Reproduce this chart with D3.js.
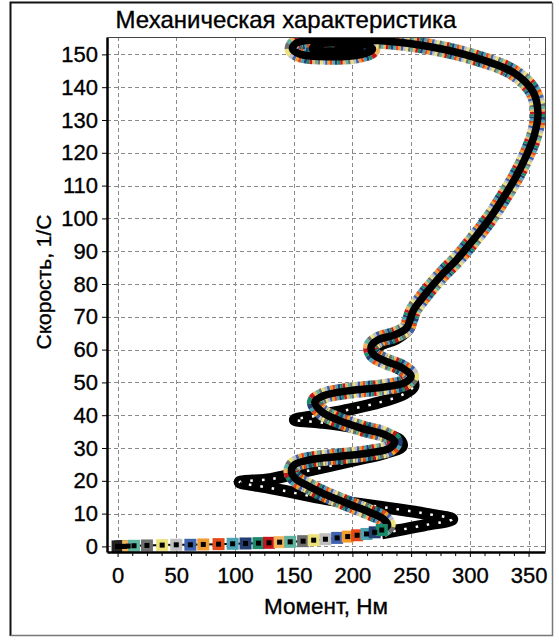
<!DOCTYPE html>
<html><head><meta charset="utf-8">
<script src="https://cdn.jsdelivr.net/npm/d3@7"></script>
<style>
body{margin:0;background:#fff}
svg{display:block}
text{font-family:"Liberation Sans",Arial,sans-serif;fill:#000;stroke:#000;stroke-width:0.35px}
</style>
</head><body>
<svg id="chart" width="559" height="640"></svg>
<script>
// Axis ticks
const torqueTicks = [0, 50, 100, 150, 200, 250, 300, 350];
const speedTicks = d3.range(0, 151, 10);

// Marker colours of the measured points
const palette = ["#f2b35a","#5fb3a1","#6f6f6f","#ece27a","#bfbfbf","#3f63ad",
                 "#f29b30","#e64a19","#4aa3b5","#243f73","#1b8a6b","#c4161c"];

// Run-up along the torque axis (sparse samples)
const runTorque = [0, 2, 4, 6, 9, 14, 25, 38, 50, 62, 73, 86, 98, 109, 120, 129, 138, 147, 158, 167, 177, 187, 196, 204, 212, 219, 225];
const runSpeed  = [0, 0, 0, 0, 0.1, 0.2, 0.3, 0.4, 0.5, 0.5, 0.6, 0.7, 0.8, 0.9, 1.0, 1.1, 1.3, 1.4, 1.6, 1.9, 2.2, 2.6, 3.0, 3.4, 3.8, 4.3, 5.0];

// Static characteristic after run-up (dense samples)
const staticTorque = [225, 230, 226, 214, 200, 186, 173, 162, 152, 148, 151, 165, 190, 214, 232, 236, 228, 208, 188, 174, 168, 176, 198, 225, 245, 250, 242, 228, 218, 216, 222, 236, 246, 249, 252, 259, 268, 278, 289, 303, 316, 328, 339, 348, 355, 358, 354, 337, 302, 265, 230, 195, 165, 152, 149, 156, 180, 205, 217, 210, 185, 168, 166, 180, 200, 207, 195, 185];
const staticSpeed  = [5.0, 6.5, 8.5, 10.5, 12.5, 14.5, 16.5, 18.5, 20.5, 23, 25, 26.5, 27.5, 28.5, 30, 32, 34, 36, 38.5, 41, 44, 46, 47.5, 48.5, 50, 52, 54.5, 56.5, 58.5, 61, 63, 64.5, 66.5, 69, 72, 75.5, 79.5, 83.5, 87.5, 93.5, 99.5, 106, 112.5, 119, 125.5, 132, 138.5, 144.5, 149.3, 152.4, 154, 154.6, 154.4, 153.4, 151.6, 150, 149.3, 149.8, 151.5, 153.2, 153.6, 152.8, 151.6, 151, 151.3, 152.2, 152.6, 152.2];

// Dynamic characteristic (wide torque oscillations)
const dynTorque = [225, 240, 262, 285, 262, 235, 205, 181, 155, 130, 104, 130, 155, 180, 205, 228, 242, 240, 222, 198, 172, 151, 172, 198, 224, 244, 252, 248, 236, 225, 218, 224, 238, 248, 250];
const dynSpeed  = [4, 5, 6.5, 8.3, 10, 11.5, 13, 14.2, 16, 17.8, 19.6, 20.5, 22.5, 24.5, 26.5, 28.5, 30.5, 32.5, 34.5, 36.5, 37.8, 38.6, 40, 41.8, 44, 46.5, 49, 52, 55, 57.5, 59.5, 61.5, 63.5, 66.5, 69.5];

const svg = d3.select("#chart");
const pLeft = 107, pRight = 545, pTop = 37, pBottom = 552;
const x = d3.scaleLinear().domain([-9, 364]).range([pLeft, pRight]);
const y = d3.scaleLinear().domain([-1.7, 155.3]).range([pBottom, pTop]);

// Outer frame: dark left/top, lighter right/bottom
svg.append("path").attr("d", "M10.5,636V2.5H552").attr("fill", "none")
  .attr("stroke", "#111").attr("stroke-width", 2);
svg.append("path").attr("d", "M552.5,2.5V635.5H10.5").attr("fill", "none")
  .attr("stroke", "#777").attr("stroke-width", 1.5);

// Title
svg.append("text").attr("x", 286).attr("y", 28).attr("text-anchor", "middle")
  .attr("font-size", 24).text("Механическая характеристика");

svg.append("defs").append("clipPath").attr("id", "plot")
  .append("rect").attr("x", pLeft).attr("y", pTop).attr("width", pRight - pLeft).attr("height", pBottom - pTop);

// Grid
const grid = svg.append("g").attr("stroke", "#8a8a8a").attr("stroke-width", 1).attr("stroke-dasharray", "4,3");
grid.selectAll("line.v").data(torqueTicks).join("line").attr("class", "v")
  .attr("x1", d => Math.round(x(d)) + 0.5).attr("x2", d => Math.round(x(d)) + 0.5)
  .attr("y1", pTop).attr("y2", pBottom);
grid.selectAll("line.h").data(speedTicks).join("line").attr("class", "h")
  .attr("y1", d => Math.round(y(d)) + 0.5).attr("y2", d => Math.round(y(d)) + 0.5)
  .attr("x1", pLeft).attr("x2", pRight);

const plot = svg.append("g").attr("clip-path", "url(#plot)");
const pts = (ts, ss) => ts.map((t, i) => [x(t), y(ss[i])]);
const curve = d3.line().curve(d3.curveCatmullRom.alpha(0.5));

// Dynamic characteristic: chain of black square markers
const dynPts = pts(dynTorque, dynSpeed);
plot.append("path").attr("d", curve(dynPts)).attr("fill", "none")
  .attr("stroke", "#000").attr("stroke-width", 12).attr("stroke-linejoin", "round");
plot.append("path").attr("d", curve(dynPts)).attr("fill", "none")
  .attr("stroke", "#fff").attr("stroke-width", 2.5).attr("stroke-dasharray", "2.5 9");

// Static characteristic: band of coloured square markers with black core
const statPts = pts(staticTorque, staticSpeed);
const statPath = curve(statPts);
const stripe = 2.5;
palette.forEach((c, i) => {
  plot.append("path").attr("d", statPath).attr("fill", "none")
    .attr("stroke", c).attr("stroke-width", 16)
    .attr("stroke-dasharray", `${stripe} ${stripe * (palette.length - 1)}`)
    .attr("stroke-dashoffset", -i * stripe);
});
plot.append("path").attr("d", statPath).attr("fill", "none")
  .attr("stroke", "#000").attr("stroke-width", 7.5).attr("stroke-linejoin", "round");

// Run-up: thin line, coloured squares, small black squares
const runPts = pts(runTorque, runSpeed);
plot.append("path").attr("d", d3.line()(runPts)).attr("fill", "none")
  .attr("stroke", "#000").attr("stroke-width", 2);
plot.selectAll("rect.run").data(runPts).join("rect").attr("class", "run")
  .attr("x", d => d[0] - 6).attr("y", d => d[1] - 6).attr("width", 12).attr("height", 12)
  .attr("fill", (d, i) => i < 4 ? "#222" : palette[(i - 4) % palette.length]);
plot.selectAll("rect.core").data(runPts).join("rect").attr("class", "core")
  .attr("x", d => d[0] - 2.5).attr("y", d => d[1] - 2.5).attr("width", 5).attr("height", 5)
  .attr("fill", "#000");

// Axes
const yAxis = svg.append("g").attr("transform", `translate(${pLeft},0)`)
  .call(d3.axisLeft(y).tickValues(speedTicks).tickSize(5).tickSizeOuter(0).tickPadding(4));
const xAxis = svg.append("g").attr("transform", `translate(0,${pBottom})`)
  .call(d3.axisBottom(x).tickValues(torqueTicks).tickSize(5).tickSizeOuter(0).tickPadding(10));
svg.append("g").attr("transform", `translate(0,${pBottom})`)
  .call(d3.axisBottom(x).tickValues(d3.range(12.5, 351, 12.5).filter(v => v % 50)).tickSize(4).tickFormat("").tickSizeOuter(0))
  .select(".domain").remove();
[yAxis, xAxis].forEach(g => {
  g.selectAll("text").attr("font-size", 22).attr("font-family", "Liberation Sans, Arial, sans-serif").attr("fill", "#000");
  g.selectAll(".tick line").attr("stroke", "#000");
  g.select(".domain").attr("stroke", "#000").attr("stroke-width", 2.5);
});

// Top and right edges of the plot
svg.append("path").attr("d", `M${pLeft},${pTop + 0.5}H${pRight + 0.5}V${pBottom}`)
  .attr("fill", "none").attr("stroke", "#444").attr("stroke-width", 1);

// Axis titles
svg.append("text").attr("x", 326).attr("y", 614).attr("text-anchor", "middle")
  .attr("font-size", 22.5).text("Момент, Нм");
svg.append("text").attr("transform", "translate(51,282) rotate(-90)").attr("text-anchor", "middle")
  .attr("font-size", 21).text("Скорость, 1/С");
</script>
</body></html>
